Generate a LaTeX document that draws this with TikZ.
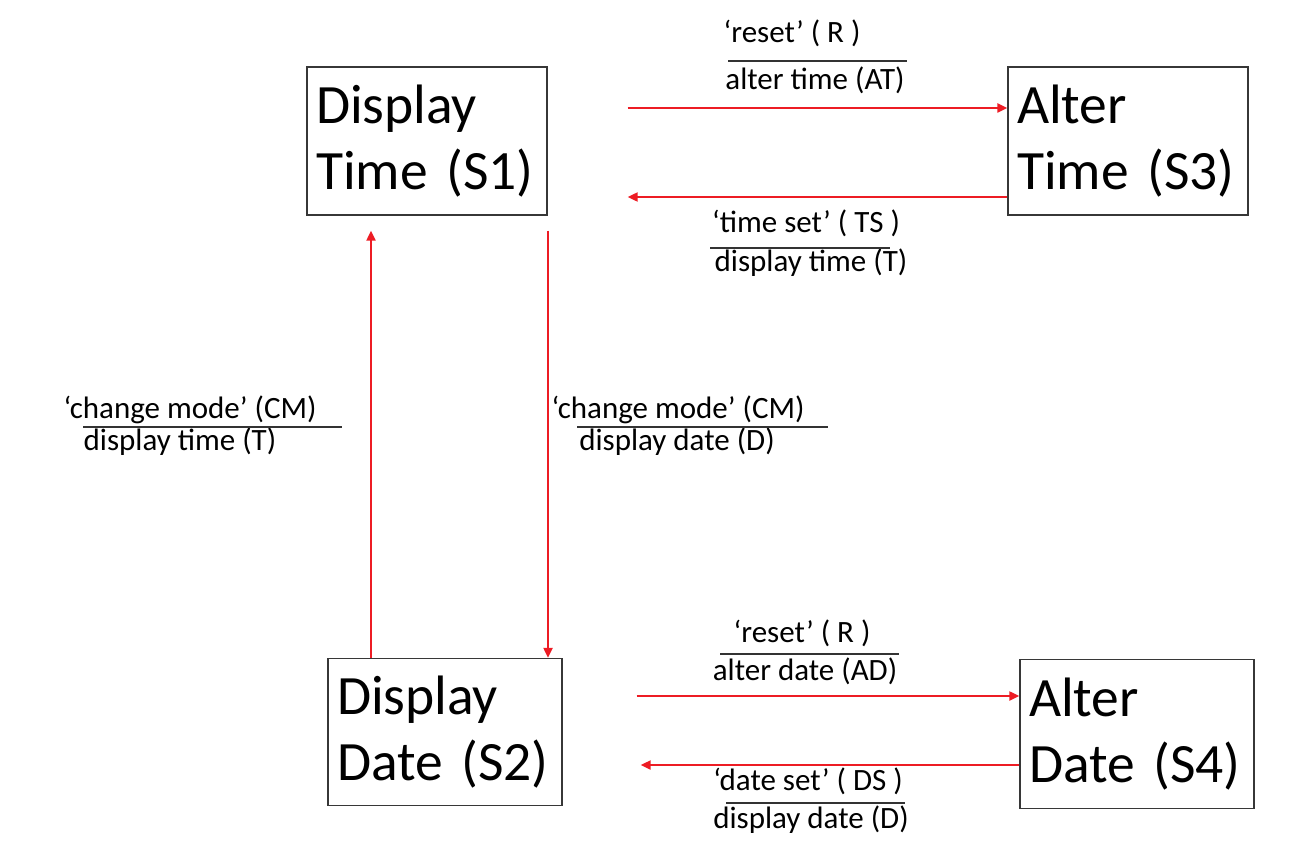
\documentclass[tikz,border=0pt]{standalone}
\usepackage{fontspec}
\setmainfont{Carlito}
\usetikzlibrary{arrows.meta}
\definecolor{transred}{RGB}{237,28,36}
\definecolor{boxgray}{RGB}{55,55,55}

\begin{document}
\begin{tikzpicture}[
        x=1pt, y=-1pt,
        state/.style={
            draw=boxgray, line width=1.4pt, rectangle,
            align=left, inner xsep=9pt,
            font=\fontsize{55.5}{66}\selectfont
        },
        trans/.style={transred, line width=2.2pt, -{Triangle[length=10pt,width=9pt]}},
        cond/.style={anchor=base, inner sep=0pt, font=\fontsize{31}{37}\selectfont},
        bar/.style={black!80, line width=1.2pt}
    ]
    \useasboundingbox (0,0) rectangle (1300,864);

    % the four modes of the watch
    \node[state, text width=222pt, minimum height=148pt] (s1) at (427,141) {Display\\Time (S1)};
    \node[state, text width=222pt, minimum height=148pt] (s3) at (1128,141) {Alter\\Time (S3)};
    \node[state, text width=216pt, minimum height=147pt] (s2) at (445,732) {Display\\Date (S2)};
    \node[state, text width=216pt, minimum height=149pt] (s4) at (1137,734) {Alter\\Date (S4)};

    \coordinate (t13) at ([xshift=80pt,yshift=33pt]s1.east);
    \coordinate (t31) at ([xshift=80pt,yshift=-56pt]s1.east);
    \coordinate (t21) at ([xshift=-56pt,yshift=-15pt]s1.south);
    \coordinate (t12) at ([xshift=121pt,yshift=-15pt]s1.south);
    \coordinate (t24) at ([xshift=74pt,yshift=36pt]s2.east);
    \coordinate (t42) at ([xshift=78pt,yshift=-33pt]s2.east);

    \draw[trans] (t13) -- (t13 -| s3.west);
    \draw[trans] (t31 -| s3.west) -- (t31);
    \draw[trans] (t21 |- s2.north) -- (t21);
    \draw[trans] (t12) -- (t12 |- s2.north);
    \draw[trans] (t24) -- (t24 -| s4.west);
    \draw[trans] (t42 -| s4.west) -- (t42);

    % event over action
    \node[cond] (c13) at (792,43) {‘reset’ ( R )};
    \node[cond] (o13) at (815,90) {alter time (AT)};
    \draw[bar] (728,61) -- (907,61);
    \node[cond] (c31) at (806,232) {‘time set’ ( TS )};
    \node[cond] (o31) at (811,271) {display time (T)};
    \draw[bar] (710,248) -- (890,248);
    \node[cond] (c21) at (190,418) {‘change mode’ (CM)};
    \node[cond] (o21) at (180,450) {display time (T)};
    \draw[bar] (83,427) -- (342,427);
    \node[cond] (c12) at (678,418) {‘change mode’ (CM)};
    \node[cond] (o12) at (677,450) {display date (D)};
    \draw[bar] (577,427) -- (828,427);
    \node[cond] (c24) at (802,642) {‘reset’ ( R )};
    \node[cond] (o24) at (805,680) {alter date (AD)};
    \draw[bar] (720,654) -- (899,654);
    \node[cond] (c42) at (808,790) {‘date set’ ( DS )};
    \node[cond] (o42) at (811,828) {display date (D)};
    \draw[bar] (726,803) -- (905,803);
\end{tikzpicture}
\end{document}
